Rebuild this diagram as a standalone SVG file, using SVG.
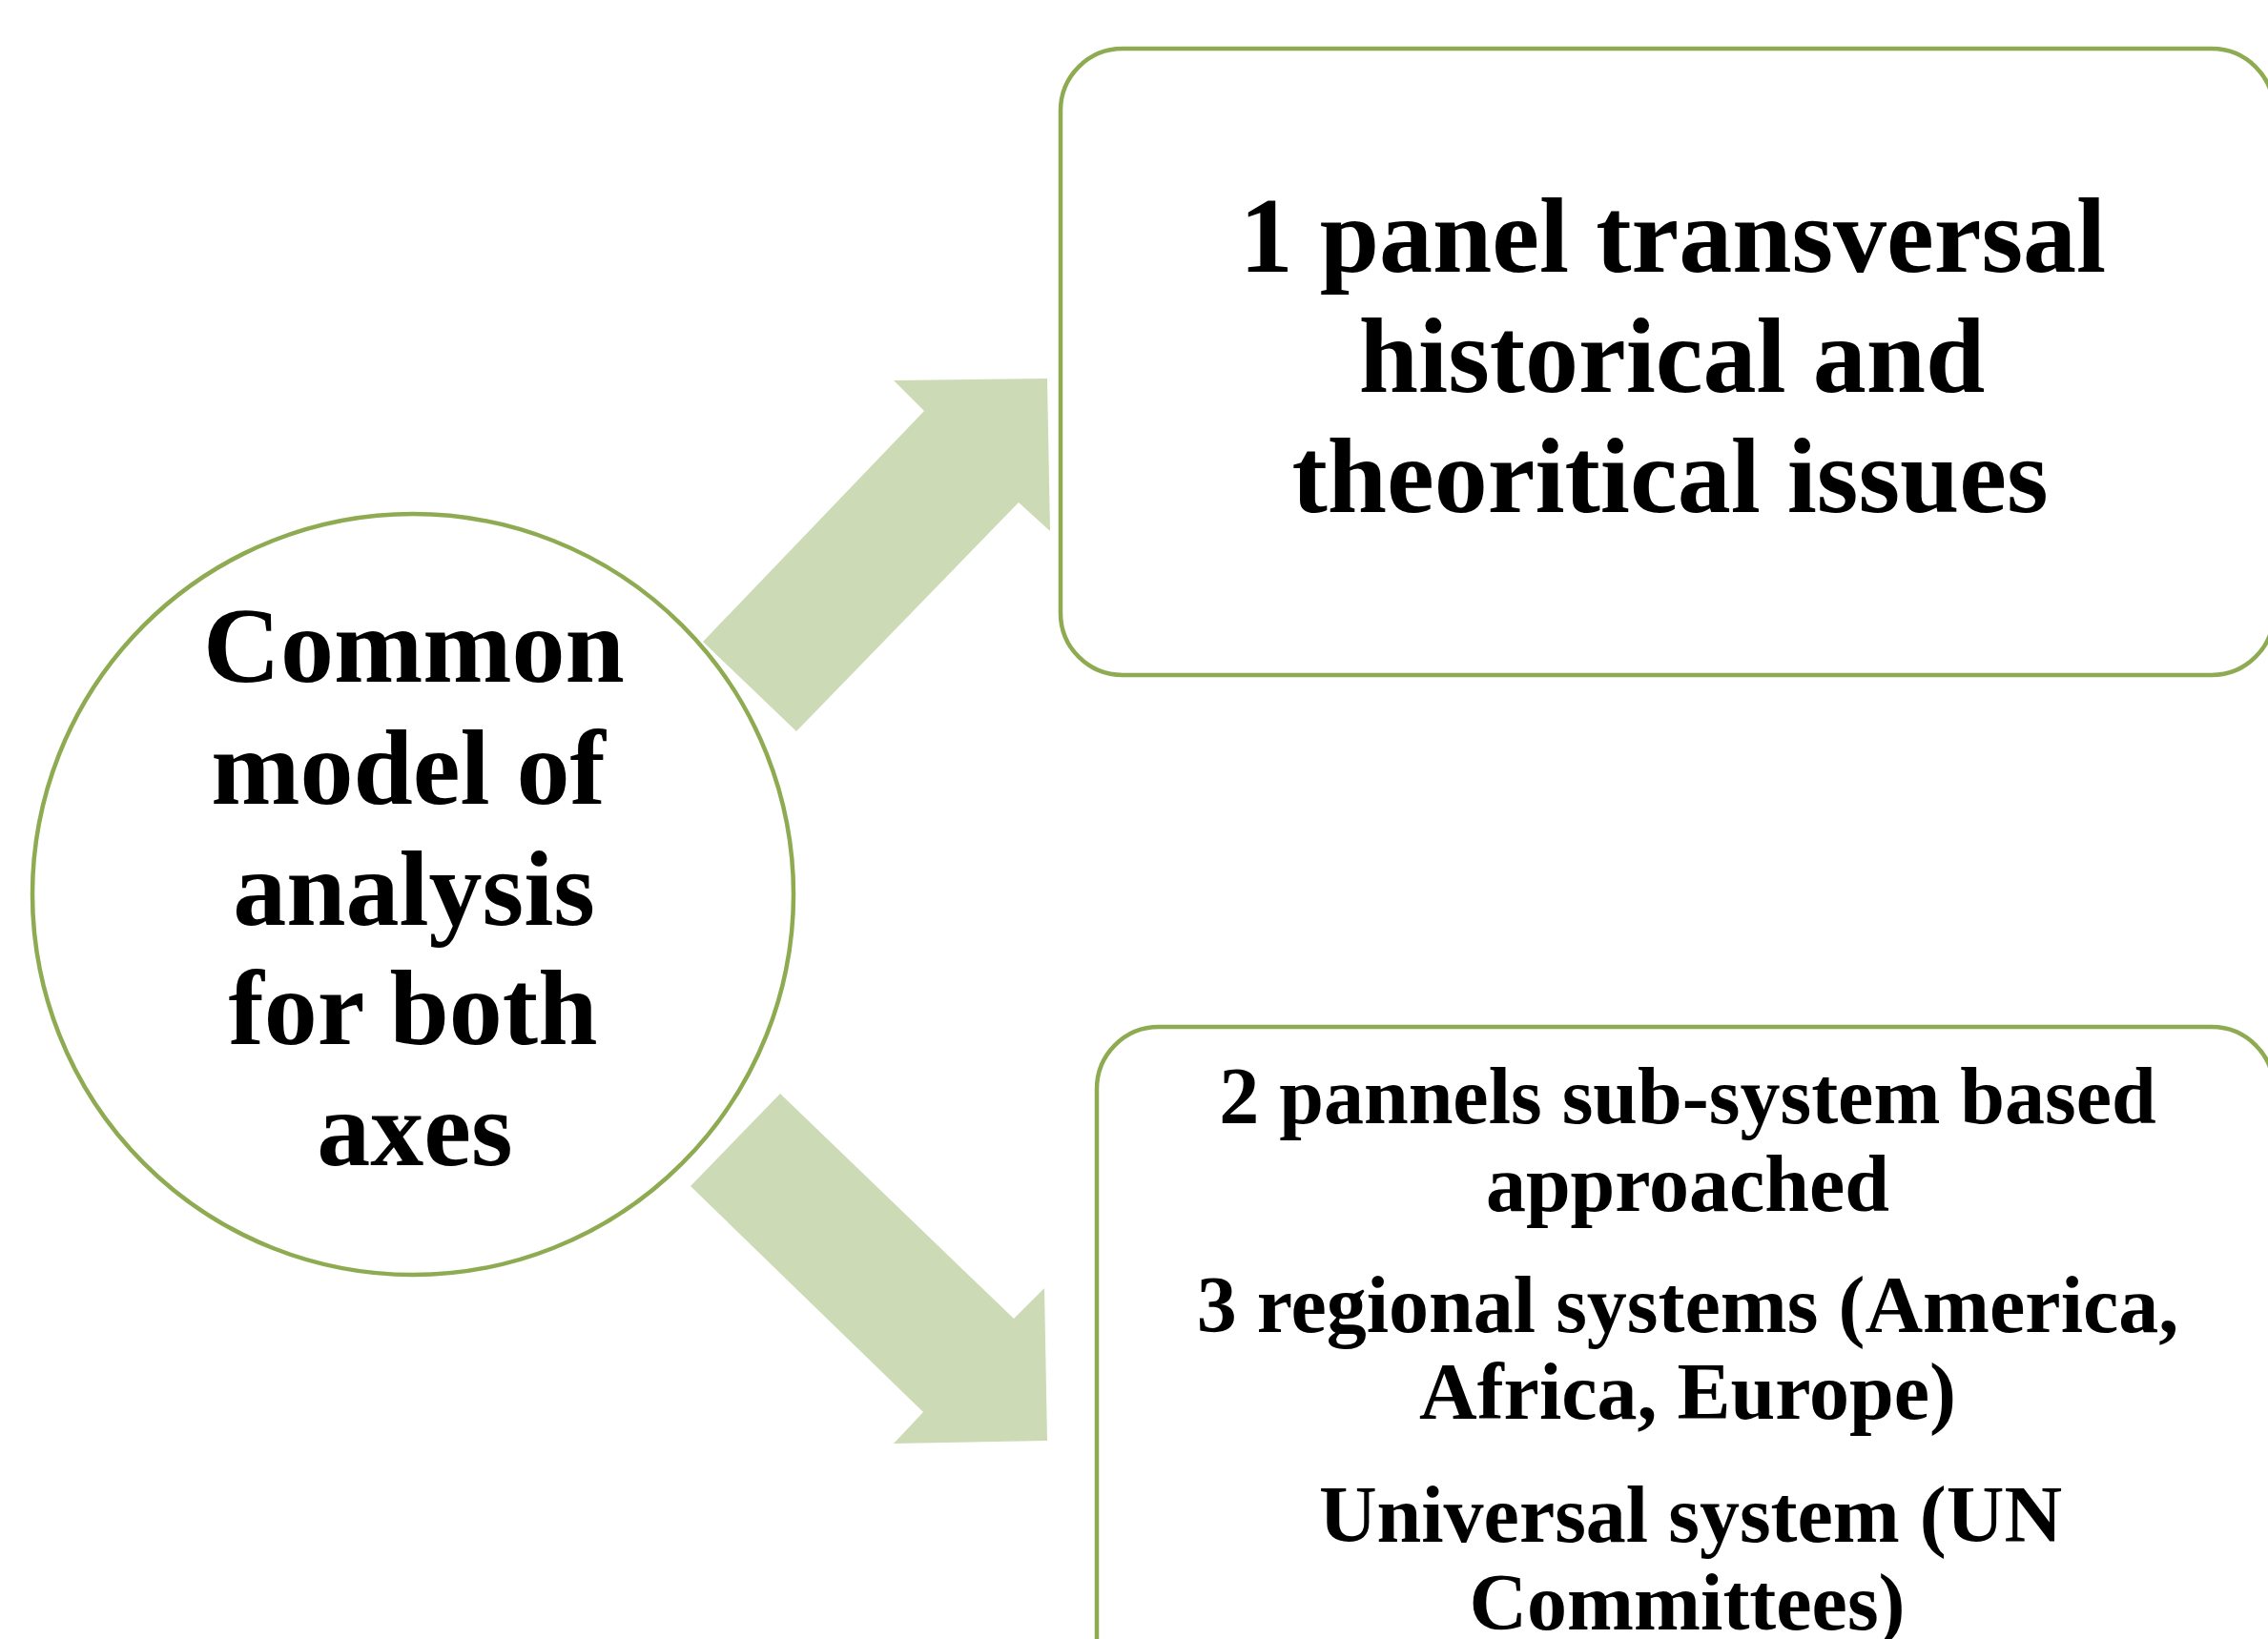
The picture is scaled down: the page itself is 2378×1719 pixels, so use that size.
<svg xmlns="http://www.w3.org/2000/svg" width="2378" height="1719" viewBox="0 0 2378 1719">
  <style>
    .shape { fill: #ffffff; stroke: #8eab52; stroke-width: 4.5; }
    .arrow { fill: #cddab6; stroke: none; }
    .label { font-family: "Liberation Serif", "DejaVu Serif", serif; font-weight: bold; fill: #000000; text-anchor: middle; }
    .big { font-size: 112px; }
    .small { font-size: 84px; }
  </style>
  <rect width="2378" height="1719" fill="#ffffff"/>

  <!-- block arrows from the hub to the two panels -->
  <g id="connectors">
    <polygon class="arrow" points="737,673 969,431 937,399 1098,397 1101,557 1068,527 835,767"/>
    <polygon class="arrow" points="818,1147 724,1244 968,1481 937,1514 1098,1511 1095,1351 1063,1383"/>
  </g>

  <!-- hub -->
  <g id="hub">
    <circle class="shape" cx="433" cy="938" r="399"/>
    <text class="label big">
      <tspan x="448" y="715">Common</tspan>
      <tspan x="442" y="843">model of</tspan>
      <tspan x="448" y="970">analysis</tspan>
      <tspan x="447" y="1095">for both</tspan>
      <tspan x="435" y="1222">axes</tspan>
    </text>
  </g>

  <!-- upper panel -->
  <g id="panel-transversal">
    <rect class="shape" x="1112" y="51" width="1272" height="657" rx="65" ry="65"/>
    <text class="label big">
      <tspan x="1768" y="285">1 panel transversal</tspan>
      <tspan x="1767" y="411">historical and</tspan>
      <tspan x="1751" y="537">theoritical issues</tspan>
    </text>
  </g>

  <!-- lower panel -->
  <g id="panel-subsystems">
    <rect class="shape" x="1150" y="1077" width="1234" height="720" rx="65" ry="65"/>
    <text class="label small">
      <tspan x="1780" y="1178">2 pannels sub-system based</tspan>
      <tspan x="1780" y="1270">approached</tspan>
      <tspan x="1780" y="1397">3 regional systems (America,</tspan>
      <tspan x="1780" y="1488">Africa, Europe)</tspan>
      <tspan x="1783" y="1617">Universal system (UN</tspan>
      <tspan x="1769" y="1709">Committees)</tspan>
    </text>
  </g>
</svg>
